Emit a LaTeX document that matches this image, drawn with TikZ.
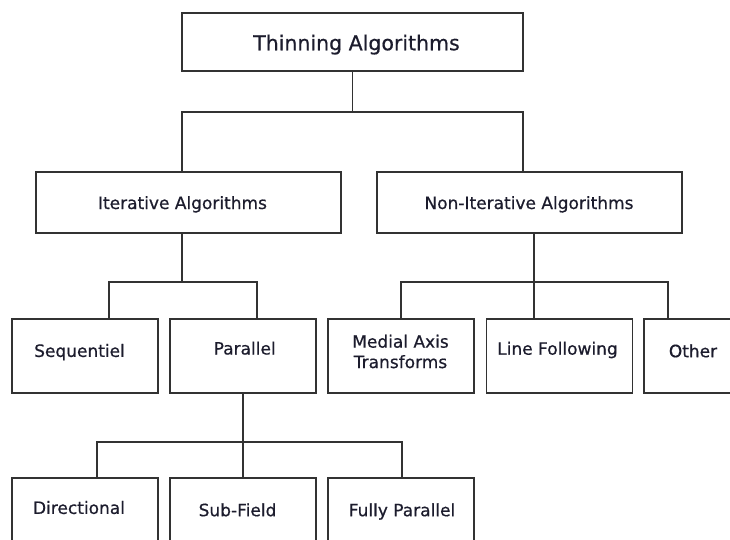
\documentclass[tikz,border=0pt]{standalone}
\usepackage{fontspec}
\setmainfont{DejaVu Sans}
\newfontfamily\boxfont{DejaVu Sans}[FakeBold=0.6]
\definecolor{edge}{RGB}{50,50,50}
\definecolor{ink}{RGB}{28,28,45}
\begin{document}
\begin{tikzpicture}[x=1pt,y=-1pt,
  box/.style={draw=edge, line width=1.8pt, fill=white, minimum width=146pt,
              minimum height=74pt, inner sep=0pt},
  widebox/.style={box, minimum width=305pt, minimum height=61pt},
  topbox/.style={box, minimum width=341pt, minimum height=58pt},
  lbl/.style={inner sep=0pt, text=ink, font=\boxfont\fontsize{17}{20.4}\selectfont,
              text height=12.4pt, text depth=0pt},
  lbltwo/.style={inner sep=0pt, text=ink, font=\boxfont\fontsize{17}{20.4}\selectfont,
              align=center},
  lbltop/.style={inner sep=0pt, text=ink, font=\boxfont\fontsize{20.5}{24.6}\selectfont,
              text height=14.9pt, text depth=0pt},
  wire/.style={draw=edge, line width=1.7pt},
]
\useasboundingbox (0,0) rectangle (730,539);
\fill[white] (0,0) rectangle (730,539);
\clip (0,0) rectangle (730,539);

% root
\node[topbox, label={[lbltop, name=ttop, xshift=4pt, yshift=-0.8pt]center:Thinning Algorithms}]
  (top) at (352.5,42) {};

% first level
\node[widebox, label={[lbl, name=tit, xshift=-6pt]center:Iterative Algorithms}]
  (it) at (188.5,202.8) {};
\node[widebox, label={[lbl, name=tnon, xshift=-0.5pt]center:Non-Iterative Algorithms}]
  (non) at (529.5,202.8) {};

% second level
\node[box, label={[lbl, name=tseq, xshift=-5.5pt, yshift=5.3pt]center:Sequentiel}]
  (seq) at (85,356) {};
\node[box, label={[lbl, name=tpar, xshift=1.7pt, yshift=7.7pt]center:Parallel}]
  (par) at (243,356) {};
\node[box, label={[lbltwo, name=tmed, xshift=-0.5pt, yshift=4.5pt]center:Medial Axis\\Transforms}]
  (med) at (401,356) {};
\node[box, label={[lbl, name=tlf, xshift=-2pt, yshift=7.5pt]center:Line Following}]
  (lf) at (559.5,356) {};
\node[box, label={[lbl, name=toth, xshift=-24pt, yshift=5pt]center:Other}]
  (oth) at (717,356) {};

% third level
\node[box, label={[lbl, name=tdir, xshift=-6pt, yshift=7.3pt]center:Directional}]
  (dir) at (85,515) {};
\node[box, label={[lbl, name=tsf, xshift=-5.5pt, yshift=5pt]center:Sub-Field}]
  (sf) at (243,515) {};
\node[box, label={[lbl, name=tfp, xshift=1pt, yshift=5pt]center:Fully Parallel}]
  (fp) at (401,515) {};

% junction points of the brackets
\coordinate (j0) at (352.5,111.7);
\coordinate (j1) at (182,282.3);
\coordinate (j2) at (534.3,282.3);
\coordinate (j3) at (243,442);

% root -> first level
\draw[wire] (top.south) -- (j0);
\draw[wire] ([xshift=-6.5pt]it.north) |- (j0) -| ([xshift=-6.2pt]non.north);

% iterative -> sequential / parallel
\draw[wire] ([xshift=-6.5pt]it.south) -- (j1);
\draw[wire] ([xshift=24pt]seq.north) |- (j1) -| ([xshift=13.7pt]par.north);

% non-iterative -> its three kinds
\draw[wire] ([xshift=4.8pt]non.south) -- (j2) -- ([xshift=-25.2pt]lf.north);
\draw[wire] (med.north) |- (j2) -| ([xshift=-48.7pt]oth.north);

% parallel -> its three kinds
\draw[wire] (par.south) -- (j3) -- (sf.north);
\draw[wire] ([xshift=12pt]dir.north) |- (j3) -| ([xshift=1pt]fp.north);
\end{tikzpicture}
\end{document}
